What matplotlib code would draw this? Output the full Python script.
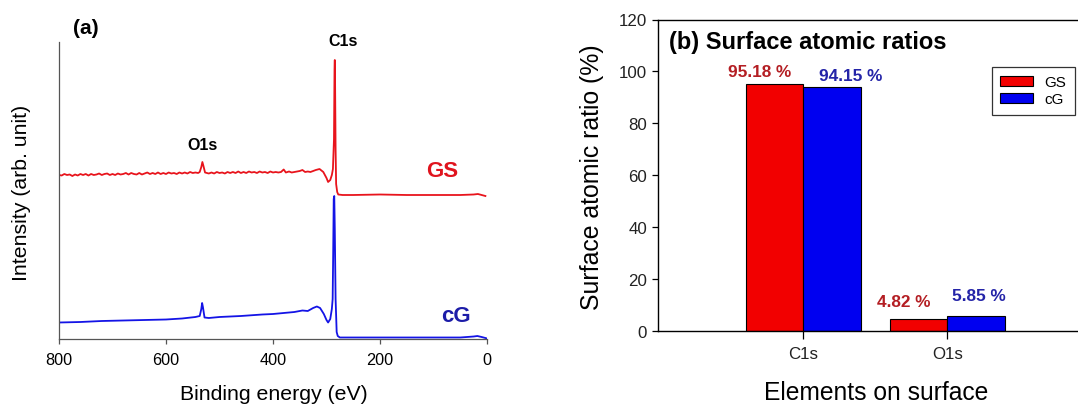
import matplotlib

matplotlib.use("Agg")
import matplotlib.pyplot as plt

WIDTH = 1078
HEIGHT = 406
DPI = 100

plt.rcParams["font.family"] = ["Liberation Sans", "DejaVu Sans"]

RED_LINE = "#e8141c"
BLUE_LINE = "#1414e6"
RED_TEXT = "#e0141e"
BLUE_TEXT = "#1c1ca8"
DARK_RED = "#b41e23"
DARK_BLUE = "#2424a8"
BAR_RED = "#f20000"
BAR_BLUE = "#0000f0"

# (a) XPS survey spectra (arb. units)
GS_ENERGY = [800, 795, 790, 785, 780, 775, 770, 765, 760, 755, 750, 745, 740, 735, 730, 725,
             720, 715, 710, 705, 700, 695, 690, 685, 680, 675, 670, 665, 660, 655, 650, 645,
             640, 635, 630, 625, 620, 615, 610, 605, 600, 595, 590, 585, 580, 575, 570, 565,
             560, 555, 550, 545, 540, 537, 534, 532, 530, 527,
             520, 515, 510, 505, 500, 495, 490, 485, 480, 475, 470, 465, 460, 455, 450, 445,
             440, 435, 430, 425, 420, 415, 410, 405, 400, 395, 390, 385, 380, 376, 370, 365,
             360, 355, 350, 345, 340, 335, 330, 325, 320, 313, 306, 300, 297, 293, 290, 288,
             286, 285, 284.5, 284, 283, 282, 280, 278, 270, 250, 200, 150, 100, 50, 25, 17,
             10, 3]
GS_INTENSITY = [164, 163.5, 165, 164, 164.5, 163, 164.5, 163.5, 165, 164, 165, 163.5, 165, 164,
                164.5, 165.5, 164, 165, 165.5, 164, 165, 164, 165.5, 164.5, 165, 166, 164.5,
                166, 165, 164.5, 166, 164.5, 165.5, 166.5, 165, 166, 165, 166.5, 165, 166, 165,
                166.5, 165.5, 166, 165, 166.5, 165.5, 166.5, 165.5, 167, 166, 166.5, 166,
                167, 172, 177, 173, 166.5,
                165.5, 166.5, 165.5, 167, 166, 166.5, 165.5, 167, 166, 167, 166, 167.5, 166,
                167, 166, 167.5, 166.5, 167, 166, 167.5, 166.5, 167, 166, 167.5, 166.5, 167,
                166.5, 167, 169.5, 166.5, 167.5, 166.5, 167, 167.5, 168, 169, 167, 167.5, 167,
                168, 169, 170, 167, 161, 157, 159, 164, 170, 200, 270, 279, 260, 190, 155, 147,
                144.5, 144, 144, 144.5, 144, 144, 144, 144.5, 145, 144, 143]

CG_ENERGY = [800, 760, 720, 680, 640, 600, 570, 545, 537, 534, 532.5, 531, 528, 520, 500, 460,
             420, 400, 380, 360, 345, 335, 325, 318, 312, 305, 300, 297, 293, 290, 288.5, 287.5,
             286.5, 285.5, 284.5, 283, 281, 279, 275, 250, 150, 50, 25, 18, 10, 3, 0]
CG_INTENSITY = [16.5, 17, 18, 18.5, 19, 19.5, 20.5, 22, 23, 30, 36, 32, 21.5, 21, 22, 23, 24.5,
                25, 26, 27, 28.5, 28, 31, 32.5, 31, 25, 19, 16.5, 20, 30, 40, 85, 140, 143, 110,
                40, 7, 3, 1.5, 1.5, 1.5, 1.5, 2.5, 3, 2, 1, 0.5]

ENERGY_TICKS = [800, 600, 400, 200, 0]

# (b) surface atomic ratios
ELEMENTS = ["C1s", "O1s"]
GS_RATIO = [95.18, 4.82]
CG_RATIO = [94.15, 5.85]
RATIO_TICKS = [0, 20, 40, 60, 80, 100, 120]


def frac(x, y):
    return x / WIDTH, 1 - y / HEIGHT


def axes_rect(left, top, right, bottom):
    return [left / WIDTH, 1 - bottom / HEIGHT, (right - left) / WIDTH, (bottom - top) / HEIGHT]


def add_text(fig, x, y, text, size, color="black", weight="normal", rotation=0):
    fx, fy = frac(x, y)
    fig.text(fx, fy, text, fontsize=size, color=color, weight=weight,
             ha="center", va="center", rotation=rotation)


def draw_spectra(fig):
    ax = fig.add_axes(axes_rect(59, 43, 487, 340))
    ax.plot(GS_ENERGY, GS_INTENSITY, color=RED_LINE, linewidth=1.3)
    ax.plot(CG_ENERGY, CG_INTENSITY, color=BLUE_LINE, linewidth=1.3)
    ax.set_xlim(800, 0)
    ax.set_ylim(0, 297)
    ax.set_xticks(ENERGY_TICKS)
    ax.set_yticks([])
    ax.spines["top"].set_visible(False)
    ax.spines["right"].set_visible(False)
    for side in ("left", "bottom"):
        ax.spines[side].set_color("#555555")
        ax.spines[side].set_linewidth(0.9)
    ax.tick_params(axis="x", direction="out", length=3.5, width=0.9, pad=6,
                   labelsize=11.7, color="#555555")

    add_text(fig, 86, 28, "(a)", 15, weight="bold")
    add_text(fig, 343, 41, "C1s", 11.5, weight="bold")
    add_text(fig, 202, 146, "O1s", 11.5, weight="bold")
    add_text(fig, 442, 172, "GS", 16, color=RED_TEXT, weight="bold")
    add_text(fig, 456, 317, "cG", 16, color=BLUE_TEXT, weight="bold")
    add_text(fig, 22, 193, "Intensity (arb. unit)", 15.3, rotation=90)
    add_text(fig, 274, 395, "Binding energy (eV)", 15.3)


def draw_ratios(fig):
    ax = fig.add_axes(axes_rect(658, 20.5, 1077, 332.3))
    pos = list(range(len(ELEMENTS)))
    width = 0.4
    gs_x = [p - width / 2 for p in pos]
    cg_x = [p + width / 2 for p in pos]
    ax.bar(gs_x, GS_RATIO, width, color=BAR_RED, edgecolor="black", linewidth=0.8, label="GS")
    ax.bar(cg_x, CG_RATIO, width, color=BAR_BLUE, edgecolor="black", linewidth=0.8, label="cG")
    ax.set_xlim(-1.009, 1.90)
    ax.set_ylim(0, 120)
    ax.set_yticks(RATIO_TICKS)
    ax.set_xticks(pos)
    ax.set_xticklabels(ELEMENTS)
    ax.spines["right"].set_visible(False)
    for side in ("left", "bottom", "top"):
        ax.spines[side].set_linewidth(1.0)
    ax.tick_params(axis="y", direction="out", length=4.3, width=0.9, pad=3.5, labelsize=12.2,
                   labelcolor="#222222")
    ax.tick_params(axis="x", direction="out", length=5.5, width=0.9, pad=5, labelsize=12.2,
                   labelcolor="#222222")

    # value labels sit slightly off the bar centres, as in the original
    label_shift = [(-15, 12), (18.5, 11), (-15, 17), (3, 21)]
    items = [(gs_x[0], GS_RATIO[0], DARK_RED), (cg_x[0], CG_RATIO[0], DARK_BLUE),
             (gs_x[1], GS_RATIO[1], DARK_RED), (cg_x[1], CG_RATIO[1], DARK_BLUE)]
    for (x, v, color), (dx, dy) in zip(items, label_shift):
        ax.annotate(f"{v:.2f} %", (x, v), xytext=(dx * 0.72, dy * 0.72), textcoords="offset points",
                    ha="center", va="center", fontsize=12.4, weight="bold", color=color)

    fx, fy = frac(669, 43)
    fig.text(fx, fy, "(b) Surface atomic ratios", fontsize=17, weight="bold", ha="left", va="center")

    lx, ly = frac(991.7, 67.7)
    leg = ax.legend(loc="upper left", bbox_to_anchor=(lx, ly), bbox_transform=fig.transFigure,
                    fontsize=11, frameon=True, fancybox=False, edgecolor="black",
                    handlelength=2.15, handleheight=0.65, labelspacing=0.18, borderpad=0.57,
                    handletextpad=0.7, borderaxespad=0)
    leg.get_frame().set_linewidth(0.9)

    add_text(fig, 592, 177, "Surface atomic ratio (%)", 17.9, rotation=90)
    add_text(fig, 876, 393, "Elements on surface", 17.7)


def main():
    fig = plt.figure(figsize=(WIDTH / DPI, HEIGHT / DPI), dpi=DPI, facecolor="white")
    draw_spectra(fig)
    draw_ratios(fig)
    fig.savefig("out.png", dpi=DPI, facecolor="white")
    plt.close(fig)


if __name__ == "__main__":
    main()
